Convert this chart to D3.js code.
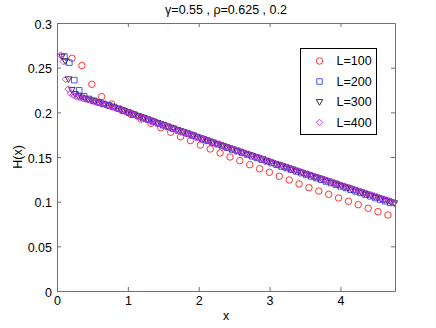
<!DOCTYPE html>
<html><head><meta charset="utf-8">
<script src="https://cdn.jsdelivr.net/npm/d3@7"></script>
<style>
body{margin:0;background:#fff;}
svg text{font-family:"Liberation Sans",Arial,Helvetica,sans-serif;fill:#000;}
</style></head>
<body><div id="chart"></div>
<script>
const title = "\u03b3=0.55 , \u03c1=0.625 , 0.2";
const xLabel = "x";
const yLabel = "H(x)";
const xTicks = [0, 1, 2, 3, 4];
const yTicks = [0, 0.05, 0.1, 0.15, 0.2, 0.25, 0.3];
const xMax = 4.77;
const seriesNames = ["L=100", "L=200", "L=300", "L=400"];
// uniform sampling grid of each series: first x and spacing
const gridStart = [0.212, 0.1045, 0.0696, 0.0522];
const gridStep = [0.1393, 0.06965, 0.04643, 0.034825];

const yL100 = [0.2605,0.2524,0.2314,0.2175,0.2093,0.2026,0.1976,0.1925,0.1877,0.1828,
0.1777,0.1727,0.1683,0.1634,0.1590,0.1545,0.1500,0.1459,0.1414,0.1369,
0.1329,0.1284,0.1243,0.1198,0.1156,0.1119,0.1082,0.1041,0.1004,0.0966,
0.0926,0.0888,0.0851];

const yL200 = [0.2625,0.2556,0.2360,0.2247,0.2180,0.2150,0.2130,0.2112,0.2095,0.2078,
0.2060,0.2040,0.2018,0.1997,0.1976,0.1956,0.1936,0.1916,0.1896,0.1876,
0.1855,0.1836,0.1817,0.1797,0.1778,0.1759,0.1739,0.1719,0.1700,0.1680,
0.1661,0.1642,0.1622,0.1603,0.1584,0.1565,0.1546,0.1527,0.1508,0.1489,
0.1470,0.1451,0.1432,0.1413,0.1394,0.1376,0.1357,0.1338,0.1319,0.1300,
0.1282,0.1263,0.1245,0.1226,0.1208,0.1190,0.1171,0.1153,0.1134,0.1115,
0.1097,0.1078,0.1060,0.1041,0.1023,0.1004,0.0986];

const yL300 = [0.2625,0.2572,0.2370,0.2252,0.2205,0.2180,0.2165,0.2153,0.2142,0.2131,
0.2119,0.2108,0.2097,0.2086,0.2074,0.2063,0.2052,0.2040,0.2027,0.2014,
0.2000,0.1987,0.1974,0.1961,0.1947,0.1934,0.1921,0.1908,0.1895,0.1881,
0.1868,0.1855,0.1842,0.1829,0.1817,0.1804,0.1791,0.1778,0.1765,0.1753,
0.1740,0.1727,0.1712,0.1699,0.1686,0.1674,0.1661,0.1648,0.1636,0.1623,
0.1610,0.1598,0.1585,0.1573,0.1560,0.1548,0.1536,0.1523,0.1511,0.1498,
0.1486,0.1474,0.1458,0.1446,0.1434,0.1422,0.1409,0.1397,0.1385,0.1372,
0.1360,0.1348,0.1336,0.1324,0.1312,0.1300,0.1288,0.1275,0.1263,0.1251,
0.1239,0.1227,0.1215,0.1203,0.1188,0.1176,0.1164,0.1152,0.1140,0.1127,
0.1115,0.1103,0.1091,0.1079,0.1067,0.1055,0.1043,0.1031,0.1019,0.1007,
0.0995,0.0983];

const yL400 = [0.2640,0.2570,0.2370,0.2260,0.2215,0.2192,0.2178,0.2169,0.2162,0.2155,
0.2148,0.2140,0.2132,0.2124,0.2116,0.2108,0.2100,0.2092,0.2084,0.2076,
0.2068,0.2060,0.2051,0.2042,0.2032,0.2022,0.2012,0.2002,0.1992,0.1982,
0.1972,0.1962,0.1952,0.1942,0.1932,0.1922,0.1913,0.1903,0.1893,0.1883,
0.1873,0.1863,0.1853,0.1844,0.1834,0.1825,0.1815,0.1806,0.1796,0.1786,
0.1777,0.1767,0.1758,0.1748,0.1738,0.1729,0.1720,0.1710,0.1701,0.1691,
0.1682,0.1672,0.1663,0.1653,0.1644,0.1634,0.1625,0.1615,0.1606,0.1596,
0.1587,0.1578,0.1568,0.1559,0.1550,0.1540,0.1531,0.1522,0.1513,0.1503,
0.1494,0.1485,0.1475,0.1466,0.1457,0.1448,0.1439,0.1429,0.1420,0.1411,
0.1402,0.1393,0.1383,0.1374,0.1365,0.1356,0.1347,0.1337,0.1328,0.1319,
0.1310,0.1301,0.1292,0.1283,0.1274,0.1265,0.1256,0.1247,0.1237,0.1228,
0.1219,0.1210,0.1201,0.1192,0.1183,0.1174,0.1165,0.1156,0.1147,0.1138,
0.1128,0.1119,0.1110,0.1101,0.1092,0.1083,0.1074,0.1065,0.1056,0.1047,
0.1038,0.1029,0.1020,0.1011,0.1002,0.0993];

const seriesY = [yL100, yL200, yL300, yL400];
const colors = ["#ff2020", "#4040ff", "#202020", "#c030f0"];
const shapes = ["circle", "square", "triangleDown", "diamond"];

const W = 436, H = 328;
const m = {left: 57, top: 23, right: 41, bottom: 37};
const iw = W - m.left - m.right, ih = H - m.top - m.bottom;
const FS = 12.5;

const svg = d3.select("#chart").append("svg").attr("width", W).attr("height", H);
const x = d3.scaleLinear().domain([0, xMax]).range([m.left, m.left + iw]);
const y = d3.scaleLinear().domain([0, 0.3]).range([m.top + ih, m.top]);

function shapePath(type, s) {
  const h = s / 2;
  if (type === "circle") return d3.symbol(d3.symbolCircle, Math.PI * h * h)();
  if (type === "square") { const a = h * 0.85; return `M${-a},${-a}H${a}V${a}H${-a}Z`; }
  if (type === "triangleDown") return `M${-h},${-h * 0.75}L${h},${-h * 0.75}L0,${h}Z`;
  if (type === "diamond") return `M0,${-h}L${h},0L0,${h}L${-h},0Z`;
}

// data points
seriesY.forEach((ys, k) => {
  const pts = ys.map((v, i) => ({x: gridStart[k] + i * gridStep[k], y: v}));
  svg.append("g").selectAll("path").data(pts).join("path")
    .attr("d", shapePath(shapes[k], 6.5))
    .attr("transform", d => `translate(${x(d.x)},${y(d.y)})`)
    .attr("fill", "none").attr("stroke", colors[k]).attr("stroke-width", 0.9);
});

// axes box
const axisColor = "#707070";
const gx = svg.append("g").attr("transform", `translate(0,${m.top + ih})`)
  .call(d3.axisBottom(x).tickValues(xTicks).tickFormat(d3.format("d")).tickSizeInner(-4).tickSizeOuter(0).tickPadding(5));
const gxt = svg.append("g").attr("transform", `translate(0,${m.top})`)
  .call(d3.axisTop(x).tickValues(xTicks).tickFormat("").tickSizeInner(-4).tickSizeOuter(0));
const gy = svg.append("g").attr("transform", `translate(${m.left},0)`)
  .call(d3.axisLeft(y).tickValues(yTicks).tickFormat(d => d3.format("")(+d.toFixed(2))).tickSizeInner(-4).tickSizeOuter(0).tickPadding(5));
const gyr = svg.append("g").attr("transform", `translate(${m.left + iw},0)`)
  .call(d3.axisRight(y).tickValues(yTicks).tickFormat("").tickSizeInner(-4).tickSizeOuter(0));
[gx, gxt, gy, gyr].forEach(g => {
  g.select(".domain").attr("stroke", axisColor);
  g.selectAll(".tick line").attr("stroke", axisColor);
  g.selectAll("text").attr("font-size", FS).attr("fill", "#000")
    .attr("font-family", '"Liberation Sans",Arial,sans-serif');
});
gy.selectAll(".tick text").attr("dy", "0.4em");
gx.selectAll(".tick text").attr("dy", "0.71em");

// title and labels
svg.append("text").attr("x", m.left + iw / 2).attr("y", 13.5).attr("text-anchor", "middle")
  .attr("font-size", FS).text(title);
svg.append("text").attr("x", m.left + iw / 2).attr("y", 319.5).attr("text-anchor", "middle")
  .attr("font-size", FS).text(xLabel);
svg.append("text").attr("transform", `translate(22,${m.top + ih / 2}) rotate(-90)`)
  .attr("text-anchor", "middle").attr("font-size", FS).text(yLabel);

// legend
const lg = svg.append("g");
lg.append("rect").attr("x", 300.5).attr("y", 48.5).attr("width", 76).attr("height", 86)
  .attr("fill", "#fff").attr("stroke", "#000").attr("stroke-width", 1);
seriesNames.forEach((name, k) => {
  const cy = 61 + k * 20.5;
  lg.append("path").attr("d", shapePath(shapes[k], 6.5))
    .attr("transform", `translate(319.5,${cy})`)
    .attr("fill", "none").attr("stroke", colors[k]).attr("stroke-width", 0.9);
  lg.append("text").attr("x", 336.5).attr("y", cy).attr("dy", "0.35em")
    .attr("font-size", FS).text(name);
});
</script>
</body></html>
